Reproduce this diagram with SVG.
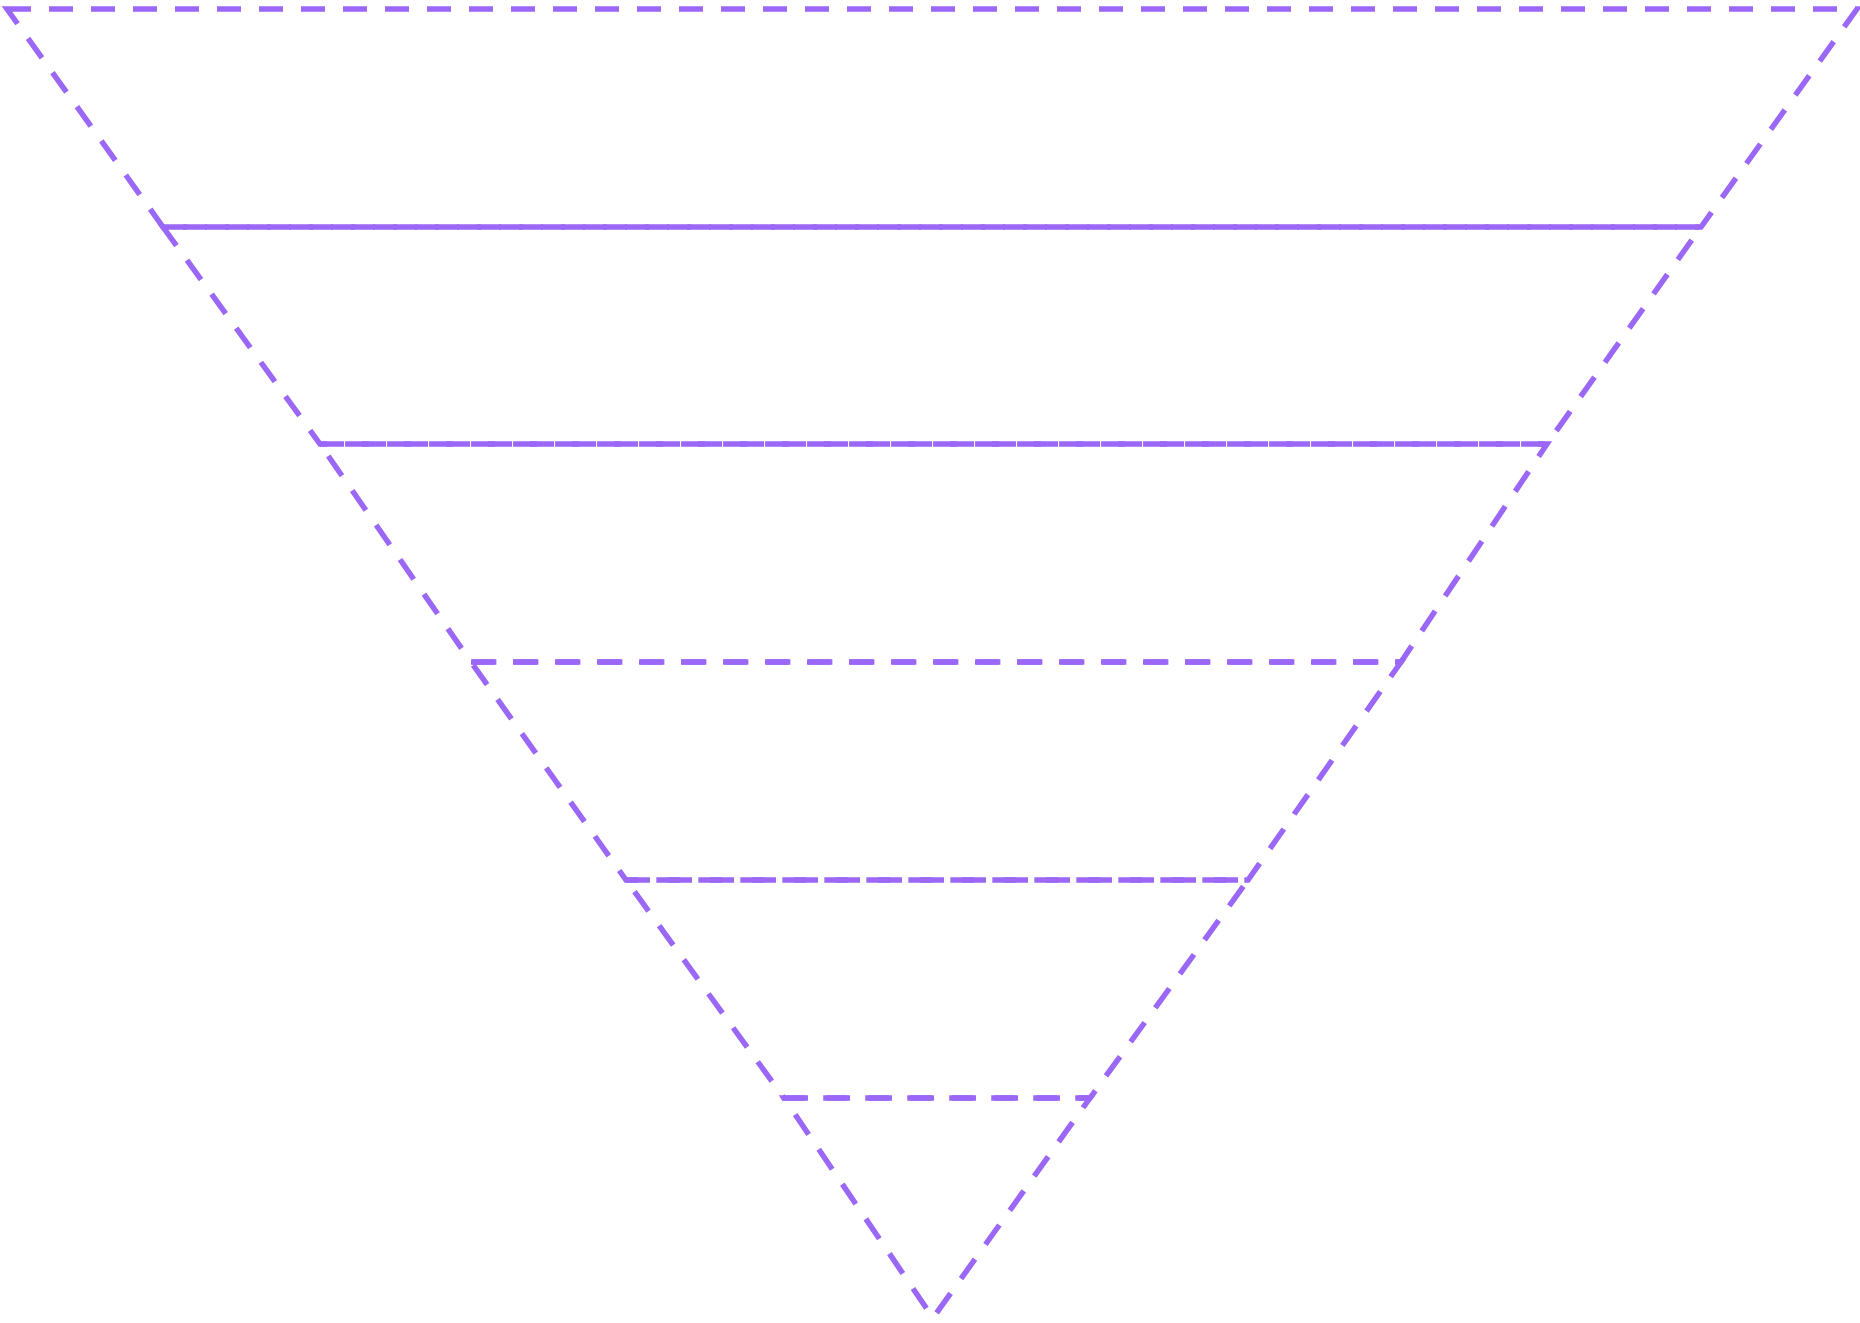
<svg xmlns="http://www.w3.org/2000/svg" width="1860" height="1323" viewBox="0 0 1860 1323">
<style>
.seg{fill:none;stroke:#9a67f6;stroke-width:5.5;stroke-dasharray:24 18;stroke-linejoin:miter}
</style>
<rect width="1860" height="1323" fill="#ffffff"/>
<g id="level1"><polygon class="seg" points="7,9 1857,9 1701,227 163,227"/></g>
<g id="level2"><polygon class="seg" points="163,227 1701,227 1547,444 320,444"/></g>
<g id="level3"><polygon class="seg" points="320,444 1547,444 1401,662 471,662"/></g>
<g id="level4"><polygon class="seg" points="471,662 1401,662 1248,880 626,880"/></g>
<g id="level5"><polygon class="seg" points="626,880 1248,880 1090,1098 784,1098"/></g>
<g id="level6"><polygon class="seg" points="784,1098 1090,1098 933,1318"/></g>
<g id="connectors"></g>
</svg>
